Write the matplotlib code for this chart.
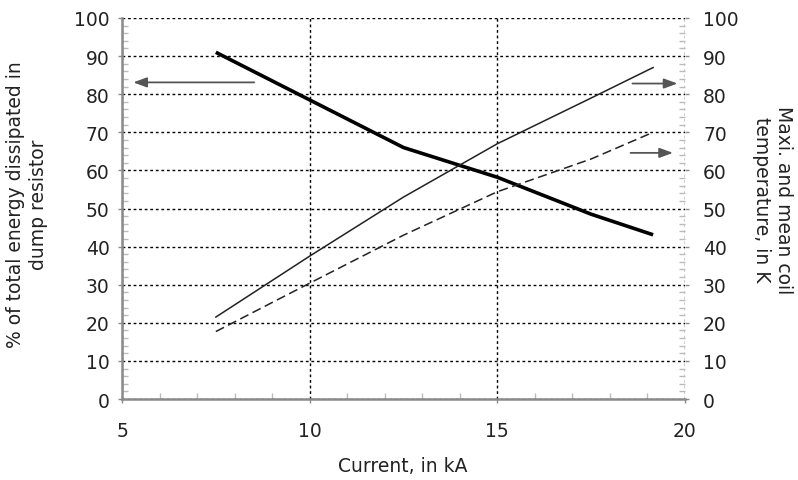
import matplotlib
matplotlib.use("Agg")
import matplotlib.pyplot as plt
from matplotlib.ticker import MultipleLocator

# data
current_ka = [7.5, 10.0, 12.5, 15.0, 17.5, 19.15]
energy_pct = [91.0, 78.5, 66.0, 58.2, 48.5, 43.1]
t_max_k = [21.5, 37.5, 53.0, 67.0, 79.0, 87.0]
t_mean_k = [17.7, 30.4, 43.0, 54.4, 63.0, 70.0]

plt.rcParams["font.family"] = ["DejaVu Sans"]
plt.rcParams["font.size"] = 13.5

fig = plt.figure(figsize=(7.98, 4.81), dpi=100)
ax = fig.add_axes([122 / 798, 1 - 400 / 481, 563 / 798, 381 / 481])
ax2 = ax.twinx()

spine_col = "#8a8a8a"
text_col = "#222222"
for a in (ax, ax2):
    a.set_xlim(5, 20)
    a.set_ylim(0, 100)
    for s in ("top", "right", "left", "bottom"):
        a.spines[s].set_visible(False)
for s in ("left", "bottom"):
    ax.spines[s].set_visible(True)
    ax.spines[s].set_color(spine_col)
    ax.spines[s].set_linewidth(1.8)

ax.xaxis.set_major_locator(MultipleLocator(5))
ax.xaxis.set_minor_locator(MultipleLocator(1))
for a in (ax, ax2):
    a.yaxis.set_major_locator(MultipleLocator(10))
    a.yaxis.set_minor_locator(MultipleLocator(2))
    a.tick_params(which="major", direction="out", length=3, width=1,
                  color=spine_col, labelcolor=text_col)
    a.tick_params(which="minor", direction="in", length=4, width=1,
                  color="#bbbbbb")
ax.tick_params(axis="x", which="major", pad=13)
ax.tick_params(axis="y", which="major", pad=6)
ax2.tick_params(axis="y", which="major", pad=10)

ax.grid(True, which="major", color="black", linestyle=(0, (2, 2)), linewidth=1)
ax.set_axisbelow(True)

ax.plot(current_ka, energy_pct, color="black", lw=2.6, solid_capstyle="butt")
ax2.plot(current_ka, t_max_k, color="#222222", lw=1.1)
ax2.plot(current_ka, t_mean_k, color="#222222", lw=1.1, linestyle=(0, (6, 3)))

arrow_kw = dict(arrowstyle="-|>,head_length=0.6,head_width=0.22",
                color="#555555", lw=1.3, shrinkA=0, shrinkB=0)
ax.annotate("", xy=(5.3, 83.1), xytext=(8.52, 83.1), arrowprops=arrow_kw)
ax2.annotate("", xy=(19.8, 82.8), xytext=(18.6, 82.8), arrowprops=arrow_kw)
ax2.annotate("", xy=(19.68, 64.6), xytext=(18.55, 64.6), arrowprops=arrow_kw)

fig.text(403 / 798, 1 - 466 / 481, "Current, in kA", color=text_col,
         ha="center", va="center")
fig.text(27 / 798, 1 - 205 / 481, "% of total energy dissipated in\ndump resistor",
         color=text_col, rotation=90, ha="center", va="center",
         multialignment="center")
fig.text(773 / 798, 1 - 200 / 481, "Maxi. and mean coil\ntemperature, in K",
         color=text_col, rotation=270, ha="center", va="center",
         multialignment="center")

fig.savefig("out.png", dpi=100)
